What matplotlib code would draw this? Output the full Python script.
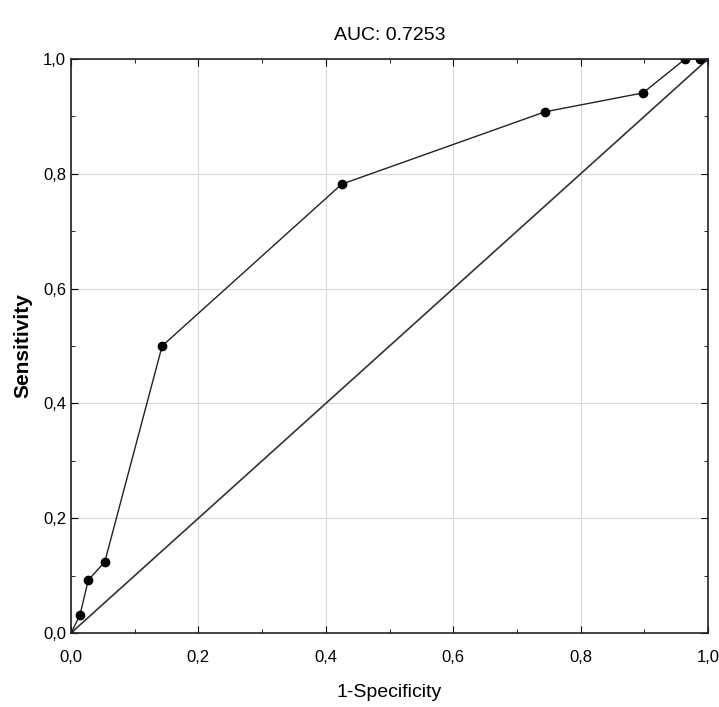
import matplotlib
matplotlib.use('Agg')
import matplotlib.pyplot as plt
from matplotlib.ticker import MultipleLocator, FuncFormatter

plt.rcParams['font.family'] = ['Liberation Sans Narrow', 'Liberation Sans', 'DejaVu Sans']

# ROC points
fpr = [0.0, 0.014, 0.027, 0.053, 0.143, 0.425, 0.744, 0.898, 0.964, 0.987, 1.0]
tpr = [0.0, 0.031, 0.092, 0.124, 0.5, 0.782, 0.908, 0.941, 1.0, 1.0, 1.0]
diag = [0.0, 1.0]
auc_text = 'AUC: 0.7253'

fig = plt.figure(figsize=(7.19, 7.07), dpi=100)
ax = fig.add_axes([0.0988, 0.1047, 0.8859, 0.8118])

ax.grid(True, color='#d8d8d8', linewidth=0.8)
ax.set_axisbelow(True)

ax.plot(diag, diag, color='#333333', linewidth=1.2)
ax.plot(fpr, tpr, color='#222222', linewidth=1.0)
ax.plot(fpr[1:-1], tpr[1:-1], 'o', color='black', markersize=6)
ax.plot([fpr[0], fpr[-1]], [tpr[0], tpr[-1]], 's', color='#1a1a6e', markersize=3)

ax.set_xlim(0, 1)
ax.set_ylim(0, 1)
ax.xaxis.set_major_locator(MultipleLocator(0.2))
ax.yaxis.set_major_locator(MultipleLocator(0.2))
ax.xaxis.set_minor_locator(MultipleLocator(0.1))
ax.yaxis.set_minor_locator(MultipleLocator(0.1))
fmt = FuncFormatter(lambda v, p: f'{v:.1f}'.replace('.', ','))
ax.xaxis.set_major_formatter(fmt)
ax.yaxis.set_major_formatter(fmt)
ax.tick_params(which='both', direction='in', top=True, right=True, labelsize=12)
ax.tick_params(which='major', length=5)
ax.tick_params(which='minor', length=3)
ax.tick_params(axis='x', which='major', pad=12)
for s in ax.spines.values():
    s.set_linewidth(1.2)
    s.set_color('#222222')

ax.set_title(auc_text, fontsize=14, pad=14)
ax.set_xlabel('1-Specificity', fontsize=14, labelpad=14)
ax.set_ylabel('Sensitivity', fontsize=15, fontweight='bold', labelpad=8)

fig.savefig('out.png', dpi=100)
